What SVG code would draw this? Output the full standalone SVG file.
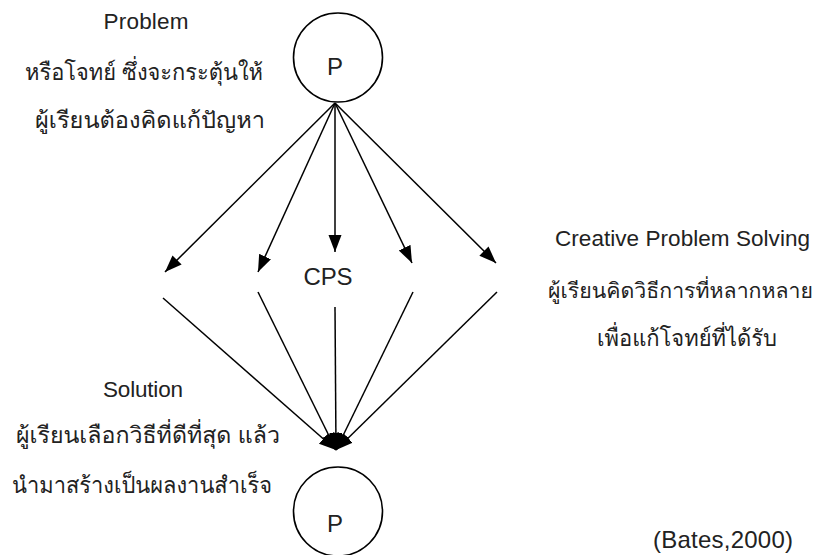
<svg xmlns="http://www.w3.org/2000/svg" width="828" height="555" viewBox="0 0 828 555">
  <style>
    .t { font-family: "Liberation Sans", "Loma", "Garuda", "Noto Sans Thai Looped", "Noto Sans Thai", "Noto Sans", sans-serif; fill: #222; text-anchor: middle; font-weight: normal; }
    .en { font-size: 22.5px; }
    .th { font-size: 23px; }
    .big { font-size: 24px; }
    .node { fill: none; stroke: #000; stroke-width: 1.6; }
    .edge { fill: none; stroke: #000; stroke-width: 1.5; marker-end: url(#arrow); }
  </style>
  <defs>
    <marker id="arrow" markerUnits="userSpaceOnUse" markerWidth="18" markerHeight="14" refX="17" refY="6.5" orient="auto">
      <path d="M0,0 L17,6.5 L0,13 Z" fill="#000"/>
    </marker>
  </defs>
  <rect width="828" height="555" fill="#fff"/>

  <g id="connectors">
    <path class="edge" d="M335,103 L165,272"/>
    <path class="edge" d="M335,103 L258,272"/>
    <path class="edge" d="M335,103 L335,252"/>
    <path class="edge" d="M335,103 L412,263"/>
    <path class="edge" d="M335,103 L496,263"/>
    <path class="edge" d="M163,298 L336,450"/>
    <path class="edge" d="M258,292 L336,450"/>
    <path class="edge" d="M335,307 L336,450"/>
    <path class="edge" d="M413,292 L336,450"/>
    <path class="edge" d="M497,292 L336,450"/>
  </g>

  <g id="node-problem">
    <circle class="node" cx="338" cy="57.5" r="44.5"/>
    <text class="t big" x="335" y="75">P</text>
  </g>

  <g id="node-cps">
    <text class="t big" x="328" y="285" textLength="49">CPS</text>
  </g>

  <g id="node-solution">
    <circle class="node" cx="338" cy="511.5" r="44.5"/>
    <text class="t big" x="335" y="532">P</text>
  </g>

  <g id="label-problem">
    <text class="t en" x="146" y="29" textLength="85">Problem</text>
    <text class="t th" x="144" y="80" textLength="238" lengthAdjust="spacingAndGlyphs">หรือโจทย์ ซึ่งจะกระตุ้นให้</text>
    <text class="t th" x="150" y="128" textLength="230" lengthAdjust="spacingAndGlyphs">ผู้เรียนต้องคิดแก้ปัญหา</text>
  </g>

  <g id="label-cps">
    <text class="t en" x="682.5" y="246" textLength="255">Creative Problem Solving</text>
    <text class="t th" x="680.5" y="298" style="font-size:21px" textLength="265" lengthAdjust="spacingAndGlyphs">ผู้เรียนคิดวิธีการที่หลากหลาย</text>
    <text class="t th" x="687" y="346" textLength="180" lengthAdjust="spacingAndGlyphs">เพื่อแก้โจทย์ที่ได้รับ</text>
  </g>

  <g id="label-solution">
    <text class="t en" x="143" y="397" textLength="80">Solution</text>
    <text class="t th" x="148" y="443" textLength="264" lengthAdjust="spacingAndGlyphs">ผู้เรียนเลือกวิธีที่ดีที่สุด แล้ว</text>
    <text class="t th" x="142" y="493" textLength="260" lengthAdjust="spacingAndGlyphs">นำมาสร้างเป็นผลงานสำเร็จ</text>
  </g>

  <g id="citation">
    <text class="t big" x="723" y="548" textLength="140">(Bates,2000)</text>
  </g>
</svg>
